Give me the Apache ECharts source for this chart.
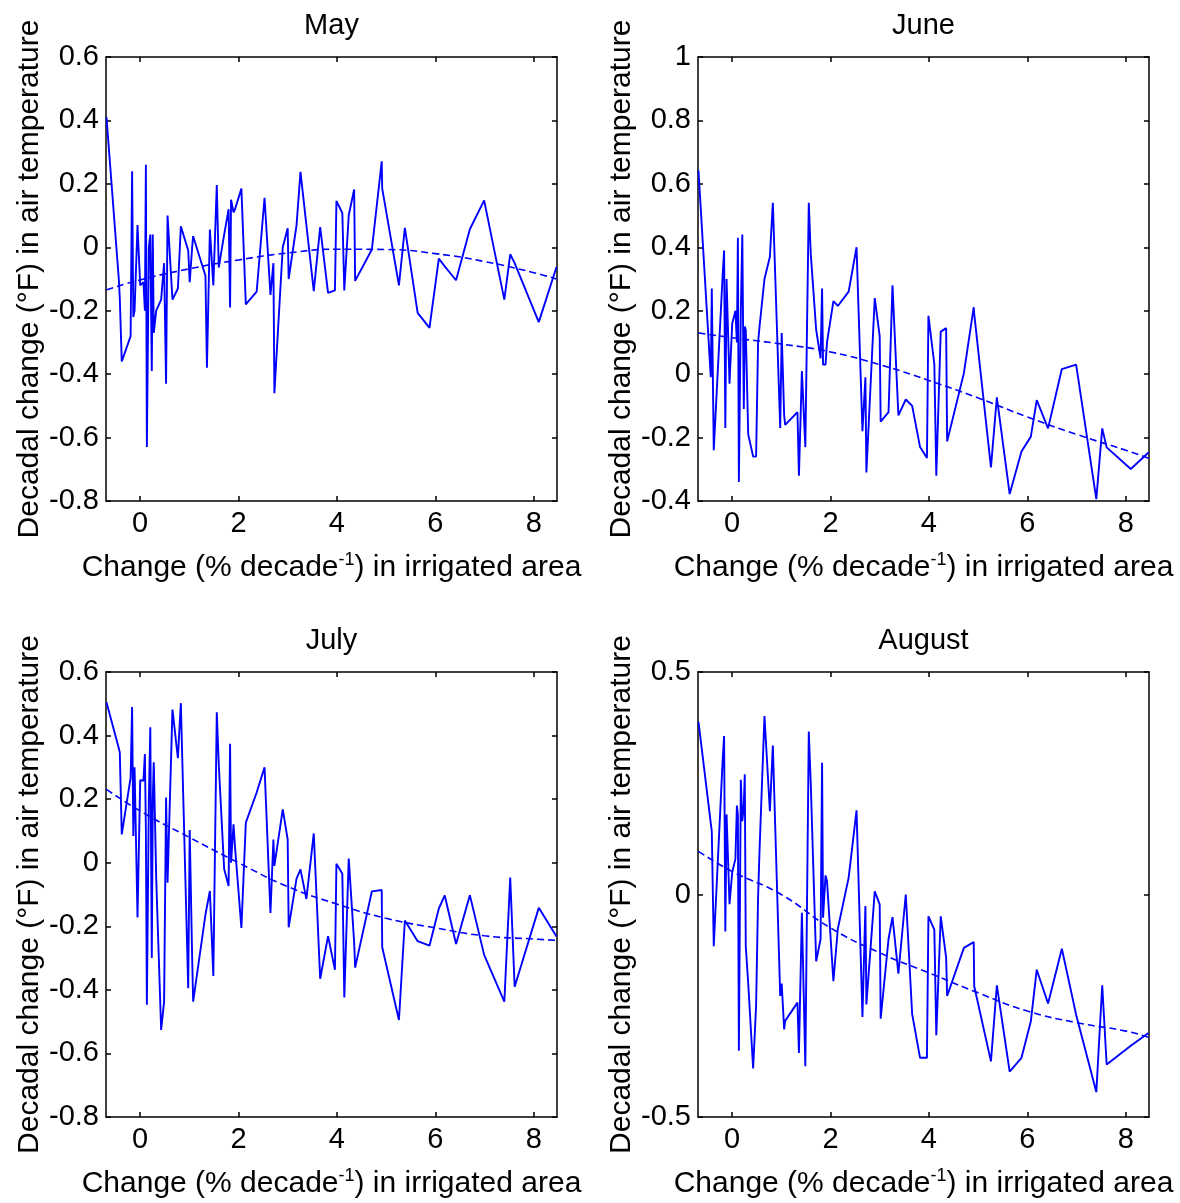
<!DOCTYPE html>
<html><head><meta charset="utf-8">
<script src="https://cdn.jsdelivr.net/npm/echarts@6/dist/echarts.min.js"></script>
<style>html,body{margin:0;padding:0;background:#fff}#c{width:1180px;height:1203px}</style>
</head><body><div id="c"></div>
<script>
// shared x values: change (% decade^-1) in irrigated area
var xs = [-0.68,-0.43,-0.41,-0.37,-0.19,-0.16,-0.135,-0.11,-0.05,0.005,0.07,0.10,0.12,0.14,0.18,0.21,0.24,0.26,0.28,0.33,0.43,0.49,0.53,0.56,0.66,0.77,0.83,0.98,1.01,1.06,1.08,1.33,1.36,1.42,1.49,1.56,1.60,1.71,1.80,1.83,1.85,1.90,1.93,2.06,2.15,2.37,2.53,2.65,2.71,2.73,2.90,3.00,3.02,3.18,3.26,3.38,3.53,3.66,3.82,3.96,3.99,4.11,4.15,4.24,4.35,4.37,4.71,4.91,4.92,5.26,5.38,5.64,5.88,6.07,6.19,6.42,6.70,6.99,7.40,7.52,7.61,8.10,8.46];

var mayVals = [0.41,-0.10,-0.16,-0.36,-0.28,0.24,-0.22,-0.20,0.07,-0.12,-0.11,-0.20,0.26,-0.63,0.00,0.04,-0.39,0.04,-0.27,-0.20,-0.165,-0.05,-0.43,0.10,-0.165,-0.13,0.066,-0.01,-0.11,0.00,0.035,-0.09,-0.38,0.056,-0.12,0.196,-0.064,0.04,0.12,-0.19,0.15,0.11,0.12,0.185,-0.18,-0.14,0.156,-0.15,-0.05,-0.46,0.0,0.06,-0.10,0.07,0.238,0.07,-0.138,0.064,-0.144,-0.136,0.146,0.108,-0.136,0.101,0.182,-0.106,-0.007,0.271,0.185,-0.12,0.061,-0.207,-0.254,-0.036,-0.06,-0.104,0.057,0.148,-0.165,-0.022,-0.05,-0.236,-0.062];

var juneVals = [0.642,-0.01,0.27,-0.24,0.31,0.39,-0.17,0.30,-0.03,0.16,0.20,0.10,0.43,-0.34,0.20,0.44,-0.11,0.15,0.14,-0.19,-0.26,-0.26,0.10,0.15,0.30,0.37,0.54,-0.17,0.13,-0.13,-0.16,-0.12,-0.32,0.01,-0.23,0.54,0.38,0.14,0.05,0.27,0.03,0.03,0.10,0.23,0.215,0.26,0.40,-0.18,-0.01,-0.31,0.24,0.12,-0.15,-0.12,0.28,-0.13,-0.08,-0.10,-0.23,-0.264,0.184,0.032,-0.32,0.134,0.145,-0.212,0.003,0.211,0.19,-0.294,-0.073,-0.378,-0.244,-0.197,-0.082,-0.171,0.016,0.030,-0.394,-0.171,-0.231,-0.299,-0.247];

var julyVals = [0.505,0.36,0.347,0.089,0.268,0.49,0.084,0.30,-0.172,0.26,0.258,0.342,0.10,-0.447,0.20,0.426,-0.30,0.20,0.316,-0.05,-0.526,-0.437,0.205,-0.063,0.482,0.329,0.502,-0.395,0.103,-0.30,-0.437,-0.163,-0.158,-0.089,-0.356,0.473,0.31,-0.02,-0.073,0.374,0.0,0.121,0.05,-0.205,0.126,0.221,0.30,-0.158,0.073,-0.01,0.168,0.073,-0.203,-0.05,-0.021,-0.114,0.092,-0.365,-0.231,-0.337,-0.003,-0.035,-0.424,0.013,-0.25,-0.33,-0.09,-0.086,-0.266,-0.495,-0.182,-0.247,-0.261,-0.144,-0.103,-0.256,-0.102,-0.29,-0.437,-0.047,-0.39,-0.142,-0.232];

var augVals = [0.388,0.16,0.142,-0.116,0.30,0.356,-0.083,0.18,-0.022,0.05,0.08,0.20,0.18,-0.351,0.258,0.165,0.20,0.27,-0.116,-0.20,-0.391,-0.25,-0.007,0.10,0.401,0.187,0.335,-0.228,-0.20,-0.303,-0.284,-0.243,-0.356,-0.041,-0.386,0.366,0.25,-0.15,-0.10,0.296,-0.052,0.043,0.03,-0.195,-0.077,0.038,0.189,-0.275,-0.026,-0.247,0.007,-0.022,-0.279,-0.10,-0.051,-0.178,0.0,-0.269,-0.367,-0.367,-0.049,-0.079,-0.316,-0.049,-0.142,-0.228,-0.12,-0.107,-0.206,-0.375,-0.204,-0.398,-0.367,-0.285,-0.169,-0.245,-0.122,-0.27,-0.444,-0.204,-0.382,-0.34,-0.311];

// fitted trend curves
var trendX = [-0.68,0,1,2,3,4,5,6,7,8,8.46];
var mayTrend = [-0.134,-0.103,-0.068,-0.040,-0.018,-0.006,-0.007,-0.020,-0.045,-0.080,-0.100];
var juneTrend = [0.13,0.115,0.095,0.07,0.03,-0.02,-0.075,-0.135,-0.19,-0.24,-0.265];
var julyTrend = [0.231,0.163,0.08,0.0,-0.075,-0.13,-0.175,-0.205,-0.23,-0.24,-0.244];
var augTrend = [0.097,0.052,0.0,-0.075,-0.131,-0.176,-0.221,-0.262,-0.288,-0.307,-0.321];

var titles = ['May','June','July','August'];
var xTicks = [0,2,4,6,8];
var yRanges = [[-0.8,0.6,0.2],[-0.4,1,0.2],[-0.8,0.6,0.2],[-0.5,0.5,0.5]];
var xRange = [-0.69,8.47];

var FONT = '"Liberation Sans", Arial, Helvetica, sans-serif';
var grids = [
  {left:106, top:57, width:451, height:444},
  {left:698, top:57, width:451, height:444},
  {left:106, top:672, width:451, height:445},
  {left:698, top:672, width:451, height:445}
];
var lineVals = [mayVals, juneVals, julyVals, augVals];
var trends = [mayTrend, juneTrend, julyTrend, augTrend];

var axisLine = {show:true, onZero:false, lineStyle:{color:'#000', width:1.5}};
var xAxes = [], yAxes = [], series = [], titleArr = [];
for (var i = 0; i < 4; i++) {
  var g = grids[i];
  titleArr.push({text: titles[i], left: g.left + g.width/2 - 5, top: g.top - 51, textAlign:'center',
    textStyle:{fontFamily:FONT, fontSize:29, fontWeight:'normal', color:'#000'}});
  xAxes.push({type:'value', gridIndex:i, position:'bottom', min:xRange[0], max:xRange[1],
    axisLine:axisLine, splitLine:{show:false},
    axisTick:{show:true, inside:true, length:5, customValues:xTicks, lineStyle:{color:'#000', width:1.5}},
    axisLabel:{customValues:xTicks, color:'#000', fontFamily:FONT, fontSize:29, margin:8},
    name:'{a|Change (% decade}{s|-1}{a|) in irrigated area}', nameLocation:'middle', nameGap:50,
    nameTextStyle:{color:'#000', fontFamily:FONT, rich:{
      a:{fontFamily:FONT, fontSize:30, color:'#000', lineHeight:34},
      s:{fontFamily:FONT, fontSize:18, color:'#000', lineHeight:34, verticalAlign:'top'}}}
  });
  xAxes.push({type:'value', gridIndex:i, position:'top', min:xRange[0], max:xRange[1],
    axisLine:axisLine, splitLine:{show:false},
    axisTick:{show:true, inside:true, length:5, customValues:xTicks, lineStyle:{color:'#000', width:1.5}},
    axisLabel:{show:false}});
  var r = yRanges[i];
  yAxes.push({type:'value', gridIndex:i, position:'left', min:r[0], max:r[1], interval:r[2],
    axisLine:axisLine, splitLine:{show:false},
    axisTick:{show:true, inside:true, length:5, lineStyle:{color:'#000', width:1.5}},
    axisLabel:{color:'#000', fontFamily:FONT, fontSize:29, margin:7},
    name:'Decadal change (\u00B0F) in air temperature', nameLocation:'middle', nameGap:56,
    nameTextStyle:{color:'#000', fontFamily:FONT, fontSize:30}});
  yAxes.push({type:'value', gridIndex:i, position:'right', min:r[0], max:r[1], interval:r[2],
    axisLine:axisLine, splitLine:{show:false},
    axisTick:{show:true, inside:true, length:5, lineStyle:{color:'#000', width:1.5}},
    axisLabel:{show:false}});
  var vals = lineVals[i];
  series.push({type:'line', xAxisIndex:2*i, yAxisIndex:2*i, symbol:'none', animation:false,
    lineStyle:{color:'#0000ff', width:1.9}, data: xs.map(function(x,k){return [x, vals[k]];})});
  var tv = trends[i];
  series.push({type:'line', xAxisIndex:2*i, yAxisIndex:2*i, symbol:'none', animation:false, smooth:true,
    lineStyle:{color:'#0000ff', width:1.6, type:[7,4]}, data: trendX.map(function(x,k){return [x, tv[k]];})});
}

var chart = echarts.init(document.getElementById('c'), null, {renderer:'canvas'});
chart.setOption({
  backgroundColor:'#fff', animation:false,
  title: titleArr, grid: grids, xAxis: xAxes, yAxis: yAxes, series: series
});
</script></body></html>
